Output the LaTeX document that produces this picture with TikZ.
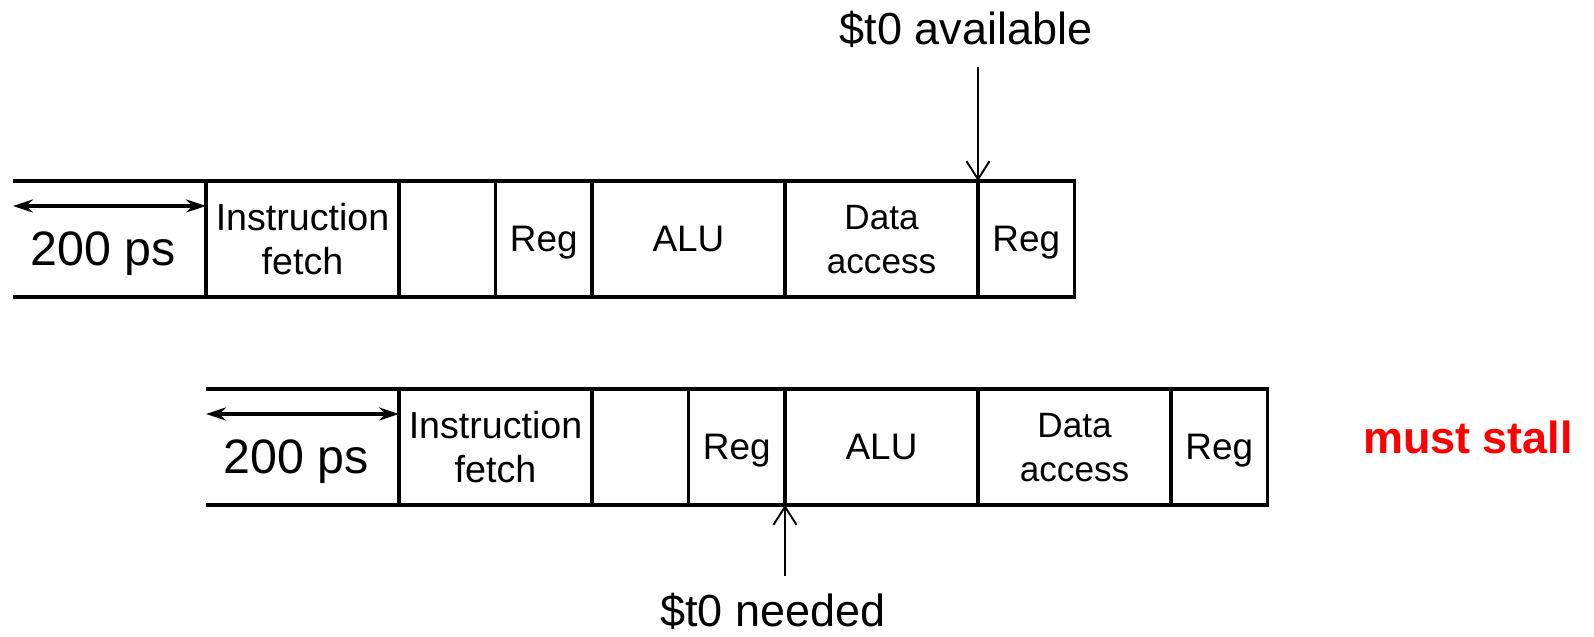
\documentclass[tikz,border=0pt]{standalone}
\usepackage{fontspec}
\setmainfont{Liberation Sans}
\usetikzlibrary{positioning,arrows.meta}
\tikzset{> = stealth}

\newcommand{\stagefont}{\fontsize{21}{25}\selectfont}
\newcommand{\fetchfont}{\fontsize{21.4}{25}\selectfont}
\newcommand{\accessfont}{\fontsize{20}{25}\selectfont}
\newcommand{\timefont}{\fontsize{27.5}{30}\selectfont}
\newcommand{\notefont}{\fontsize{25.6}{28}\selectfont}

\tikzset{
  cell/.style={line width=1.9pt, minimum height=2.32cm, inner sep=0pt, outer sep=0pt, text depth=0pt, align=center, font=\stagefont},
  stage/.style={cell, draw},
  widecell/.style={minimum width=3.86cm},
  halfcell/.style={minimum width=1.93cm},
  rowline/.style={line width=1.9pt},
  spanarrow/.style={{Stealth[length=0.4cm,width=0.26cm]}-{Stealth[length=0.4cm,width=0.26cm]}, line width=1.9pt},
  pointer/.style={-{Straight Barb[length=0.36cm,width=0.46cm]}, line width=1.1pt},
}

\begin{document}
\begin{tikzpicture}
\useasboundingbox (0,0) rectangle (31.88,12.74);
% first instruction (writes $t0)
\node[cell, widecell, anchor=west] (t0) at (0.26,7.96) {};
\node[stage, widecell, right=0pt of t0, font=\fetchfont] (t1) {Instruction\\fetch};
\node[stage, halfcell, right=0pt of t1] (t2) {};
\node[stage, halfcell, right=0pt of t2] (t3) {Reg};
\node[stage, widecell, right=0pt of t3] (t4) {ALU};
\node[stage, widecell, right=0pt of t4, font=\accessfont] (t5) {Data\\access};
\node[stage, halfcell, right=0pt of t5] (t6) {Reg};
\draw[rowline] (t0.north west) -- (t0.north east) (t0.south west) -- (t0.south east);
\draw[spanarrow] ([yshift=-0.5cm]t0.north west) -- ([yshift=-0.5cm]t0.north east);
\node[font=\timefont, anchor=base] (t0time) at ([xshift=-0.13cm,yshift=-0.54cm]t0.center) {200 ps};

% second instruction, one stage later (reads $t0)
\node[cell, widecell, anchor=west] (b0) at (4.12,3.80) {};
\node[stage, widecell, right=0pt of b0, font=\fetchfont] (b1) {Instruction\\fetch};
\node[stage, halfcell, right=0pt of b1] (b2) {};
\node[stage, halfcell, right=0pt of b2] (b3) {Reg};
\node[stage, widecell, right=0pt of b3] (b4) {ALU};
\node[stage, widecell, right=0pt of b4, font=\accessfont] (b5) {Data\\access};
\node[stage, halfcell, right=0pt of b5] (b6) {Reg};
\draw[rowline] (b0.north west) -- (b0.north east) (b0.south west) -- (b0.south east);
\draw[spanarrow] ([yshift=-0.5cm]b0.north west) -- ([yshift=-0.5cm]b0.north east);
\node[font=\timefont, anchor=base] (b0time) at ([xshift=-0.13cm,yshift=-0.54cm]b0.center) {200 ps};

% labels
\node[font=\notefont, anchor=base] (avail) at (19.32,11.84) {\$t0 available};
\coordinate (availtail) at (t6.north west |- 0,11.40);
\draw[pointer] (availtail) -- (t6.north west);

\node[font=\notefont, anchor=base] (needed) at (15.46,0.2) {\$t0 needed};
\coordinate (neededtail) at (b4.south west |- 0,1.22);
\draw[pointer] (neededtail) -- (b4.south west);

\node[font=\notefont\bfseries, text=red, anchor=base] (stall) at (29.36,3.66) {must stall};
\end{tikzpicture}
\end{document}
